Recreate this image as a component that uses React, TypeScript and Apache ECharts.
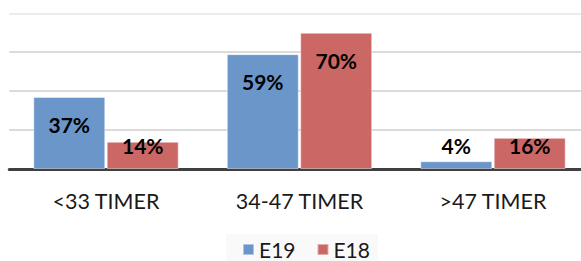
import React, { useEffect, useRef } from "react";
import * as echarts from "echarts";

const categories = ["<33 TIMER", "34-47 TIMER", ">47 TIMER"];
const seriesNames = ["E19", "E18"];
const e19Values = [37, 59, 4];
const e18Values = [14, 70, 16];
const yTicks = [0, 20, 40, 60, 80];

const BLUE = "#6a96ca";
const RED = "#cb6866";
const FONT = "Lato, 'Open Sans', sans-serif";

export default function App() {
  const ref = useRef<HTMLDivElement>(null);
  useEffect(() => {
    if (!ref.current) return;
    const chart = echarts.init(ref.current, undefined, { renderer: "svg" });
    const labelData: any[] = [];
    e19Values.forEach((v, i) => labelData.push([i, v, 0]));
    e18Values.forEach((v, i) => labelData.push([i, v, 1]));
    const option: any = {
      animation: false,
      backgroundColor: "#ffffff",
      grid: {
        left: 9.25,
        top: 13.3,
        width: 580.5,
        height: 155.7,
        outerBoundsMode: "none",
        containLabel: false,
      },
      legend: {
        data: seriesNames,
        bottom: -2,
        left: 226,
        icon: "rect",
        itemWidth: 11,
        itemHeight: 11,
        itemGap: 21,
        padding: [5, 8, 3, 16],
        backgroundColor: "#f9f9f9",
        textStyle: { fontFamily: FONT, fontSize: 21, color: "#1a1a1a" },
      },
      xAxis: {
        type: "category",
        data: categories,
        axisLine: { lineStyle: { color: "#404040", width: 3 } },
        axisTick: { show: false },
        axisLabel: { fontFamily: FONT, fontSize: 21.5, color: "#1a1a1a", margin: 21 },
        splitLine: { show: false },
      },
      yAxis: {
        type: "value",
        min: yTicks[0],
        max: yTicks[yTicks.length - 1],
        interval: yTicks[1] - yTicks[0],
        axisLabel: { show: false },
        axisLine: { show: false },
        axisTick: { show: false },
        splitLine: {
          lineStyle: {
            color: ["#cfcfcf", "#cfcfcf", "#cfcfcf", "#cfcfcf", "#e6e6e6"],
            width: 1.5,
          },
        },
      },
      series: [
        {
          name: seriesNames[0],
          type: "bar",
          data: e19Values,
          barWidth: "37.2%",
          barGap: "2%",
          itemStyle: { color: BLUE, borderColor: "rgba(255,255,255,0.45)", borderWidth: 1 },
        },
        {
          name: seriesNames[1],
          type: "bar",
          data: e18Values,
          barWidth: "37.2%",
          barGap: "2%",
          itemStyle: { color: RED, borderColor: "rgba(255,255,255,0.45)", borderWidth: 1 },
        },
        {
          type: "custom",
          silent: true,
          z: 10,
          data: labelData,
          renderItem: (params: any, api: any) => {
            const idx = api.value(0);
            const val = api.value(1);
            const s = api.value(2);
            const labelVal = Math.max(val - 14, 12.3);
            const pt = api.coord([idx, labelVal]);
            const band = api.size([1, 0])[0];
            const dx = (s === 0 ? -1 : 1) * band * 0.19;
            return {
              type: "text",
              x: pt[0] + dx,
              y: pt[1],
              style: {
                text: val + "%",
                fill: "#000000",
                font: "bold 21px " + FONT,
                align: "center",
                verticalAlign: "middle",
              },
            };
          },
        },
      ],
    };
    chart.setOption(option);
    return () => chart.dispose();
  }, []);
  return (
    <div
      ref={ref}
      style={{ position: "fixed", left: 0, top: 0, width: 581, height: 261, overflow: "hidden" }}
    />
  );
}
